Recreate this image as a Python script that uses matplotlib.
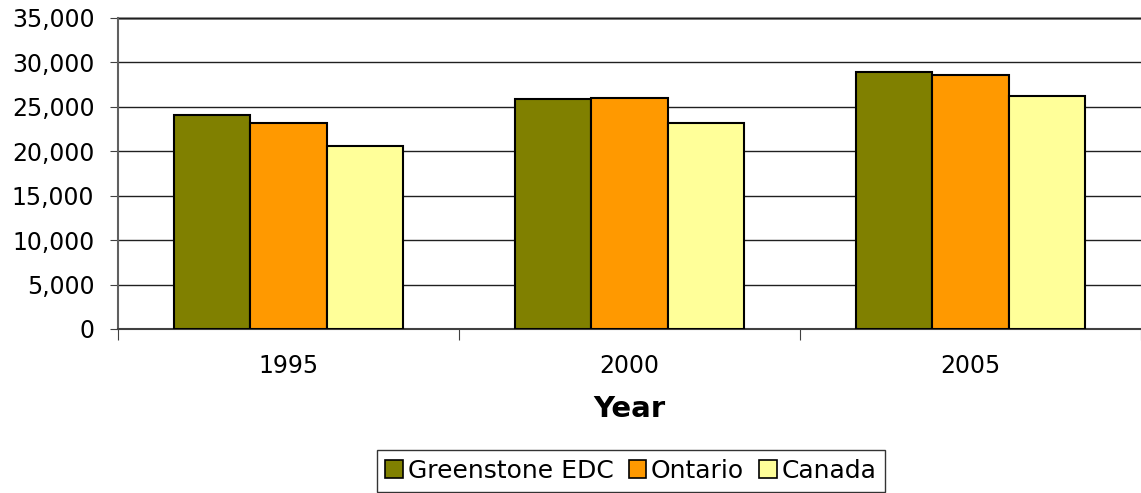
import matplotlib.pyplot as plt
import matplotlib.patches as mpatches
import numpy as np
from matplotlib.ticker import FuncFormatter

plt.rcParams['font.family'] = 'DejaVu Sans'

years = ['1995', '2000', '2005']
series = ['Greenstone EDC', 'Ontario', 'Canada']
greenstone = [24050, 25850, 28950]
ontario = [23150, 26050, 28550]
canada = [20650, 23150, 26250]
colors = ['#808000', '#FF9900', '#FFFF99']

fig = plt.figure(figsize=(11.41, 4.93), dpi=100)
ax = fig.add_axes([118 / 1141, 1 - 329 / 493, 1023 / 1141, 311 / 493])

x = np.arange(len(years))
w = 0.223
for i, (vals, c) in enumerate(zip([greenstone, ontario, canada], colors)):
    ax.bar(x + (i - 1) * w, vals, width=w, color=c, edgecolor='black',
           linewidth=1.5, zorder=3)

ax.set_xlim(-0.5, -0.5 + 1023 / 343)
ax.set_ylim(0, 35000)
ax.set_yticks(np.arange(0, 35001, 5000))
ax.yaxis.set_major_formatter(FuncFormatter(lambda v, p: f'{int(v):,}'))
ax.yaxis.grid(True, color='#202020', linewidth=1.0, zorder=0)
ax.axhline(35000, color='#808080', linewidth=2, zorder=1, clip_on=False)

ax.set_xticks([-0.5, 0.5, 1.5, 2.5])
ax.set_xticklabels([])
ax.set_xticks(x, minor=True)
ax.set_xticklabels(years, minor=True, fontsize=17)
ax.tick_params(axis='x', which='major', length=8, color='#404040', direction='out')
ax.tick_params(axis='x', which='minor', length=0, pad=18)
ax.tick_params(axis='y', length=6, color='#404040', direction='out', pad=11,
               labelsize=17)

for s in ['top', 'right']:
    ax.spines[s].set_visible(False)
ax.spines['left'].set_color('#606060')
ax.spines['left'].set_linewidth(1.5)
ax.spines['bottom'].set_color('#404040')
ax.spines['bottom'].set_linewidth(1.5)

ax.set_xlabel('Year', fontsize=21, fontweight='bold', labelpad=12)

handles = [mpatches.Patch(facecolor=c, edgecolor='black', linewidth=1.2, label=s)
           for c, s in zip(colors, series)]
leg = fig.legend(handles=handles, loc='upper center', ncol=3,
                 bbox_to_anchor=(631 / 1141, 1 - 450 / 493), fontsize=18,
                 frameon=True, fancybox=False, edgecolor='black',
                 handlelength=0.7, handleheight=0.7, handletextpad=0.2,
                 columnspacing=0.6, borderpad=0.35, borderaxespad=0)
leg.get_frame().set_linewidth(1.0)

fig.savefig('out.png', dpi=100)
